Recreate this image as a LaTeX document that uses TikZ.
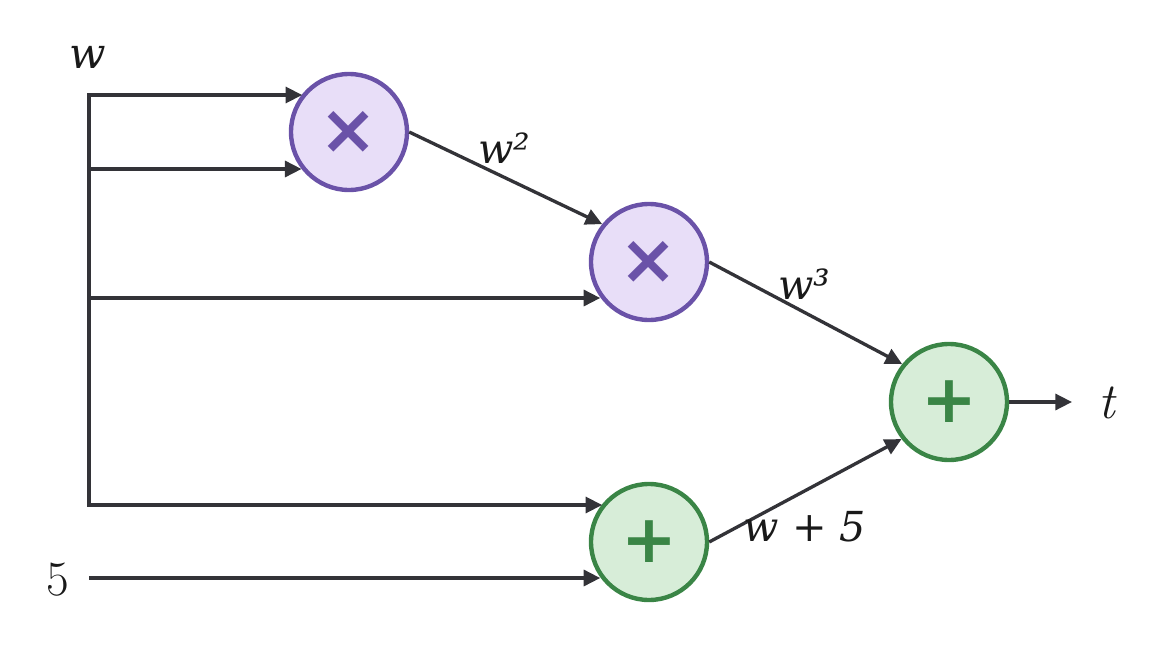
\documentclass[tikz,border=0pt]{standalone}
\usepackage{fontspec}
\usetikzlibrary{arrows.meta}
\newfontfamily\labfont{DejaVu Serif}
\newfontfamily\symfont{DejaVu Sans}
\definecolor{edgec}{HTML}{333338}
\definecolor{purpleb}{HTML}{6A52A8}
\definecolor{purplef}{HTML}{E8DEF8}
\definecolor{greenb}{HTML}{3A8546}
\definecolor{greenf}{HTML}{D7EDD8}
\tikzset{
  opnode/.style={circle, minimum size=87pt, inner sep=0pt, line width=3.3pt},
  mulnode/.style={opnode, draw=purpleb, fill=purplef, text=purpleb},
  addnode/.style={opnode, draw=greenb, fill=greenf, text=greenb},
  conn/.style={draw=edgec, line width=2.5pt, -{Triangle[length=12.5pt,width=12pt]}},
  wire/.style={draw=edgec, line width=2.5pt},
  lab/.style={text=black!90, inner sep=0pt},
}
\begin{document}
\begin{tikzpicture}[x=0.75pt,y=-0.75pt]
\useasboundingbox (0,0) rectangle (1165,653);
\node[mulnode] (n1) at (349,132) {\symfont\bfseries\fontsize{52}{52}\selectfont ×};
\node[mulnode] (n2) at (649,262) {\symfont\bfseries\fontsize{52}{52}\selectfont ×};
\node[addnode] (n3) at (949,402) {\symfont\bfseries\fontsize{50}{50}\selectfont +};
\node[addnode] (n4) at (649,542) {\symfont\bfseries\fontsize{50}{50}\selectfont +};
\coordinate (wt) at (89,95);
\coordinate (wa) at (89,169);
\coordinate (wb) at (89,298);
\coordinate (wc) at (89,505);
\coordinate (fs) at (89,578);
\coordinate (out) at (1072,402);
\node[lab] (lw) at (88,57) {\labfont\itshape\fontsize{32}{32}\selectfont w};
\node[lab] (l5) at (58,580) {\fontsize{37}{37}\selectfont 5};
\node[lab] (lt) at (1107,403) {\fontsize{38}{38}\selectfont\itshape t};
\draw[wire, line join=miter, {Triangle[length=12.5pt,width=12pt]}-{Triangle[length=12.5pt,width=12pt]}] (n1.141.9 |- wt) -- (wt) -- (wc) -- (n4.141.9 |- wc);
\draw[conn] (wa) -- (n1.218.1 |- wa);
\draw[conn] (wb) -- (n2.216.9 |- wb);
\draw[conn] (fs) -- (n4.216.9 |- fs);
\draw[conn] (n1.east) -- (n2.141.5);
\draw[conn] (n2.east) -- (n3.141.5);
\draw[conn] (n4.east) -- (n3.218.5);
\draw[conn] (n3.east) -- (out);
\node[lab] (l2) at (504,148) {\labfont\itshape\fontsize{31}{31}\selectfont w²};
\node[lab] (l3) at (804,284) {\labfont\itshape\fontsize{31}{31}\selectfont w³};
\node[lab] (l4) at (805,527) {\labfont\itshape\fontsize{31}{31}\selectfont w + 5};
\end{tikzpicture}
\end{document}
